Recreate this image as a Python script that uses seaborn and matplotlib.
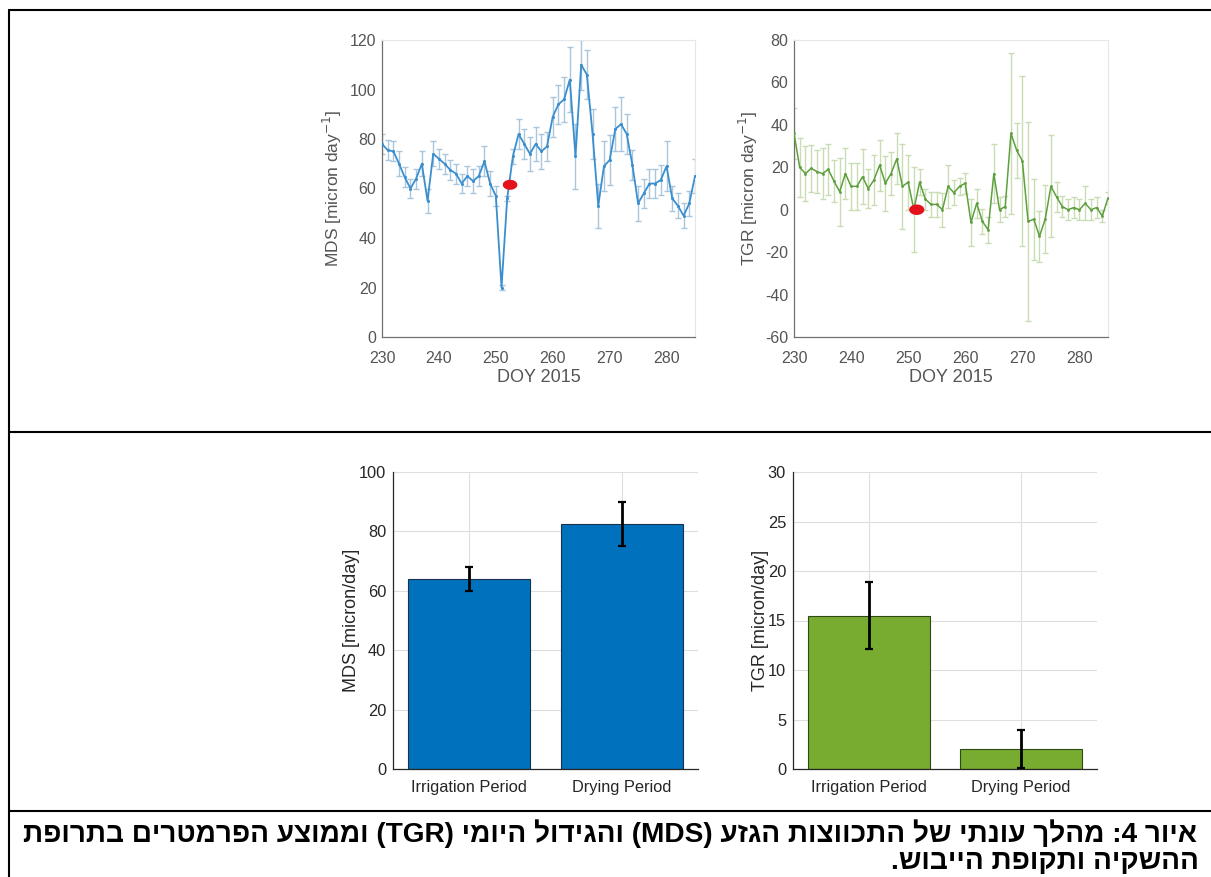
import re
import numpy as np
import pandas as pd
import seaborn as sns
import matplotlib
matplotlib.use("Agg")
import matplotlib.pyplot as plt
from matplotlib.lines import Line2D
from matplotlib.path import Path

# ---------------- data ----------------
doy = list(range(230, 286))
mds = [78, 75.5, 75, 70, 64.5, 60, 64, 70, 55, 74, 72, 70, 67.5, 66, 62, 65, 63, 65,
       71, 62, 57, 20, 56, 73, 82, 78, 74, 78, 75, 77, 89, 94, 96, 104, 73, 110, 106,
       82, 53, 69, 71.5, 84, 86, 82, 69.5, 54, 58, 62, 62, 63.5, 69, 56, 53, 49, 54, 65]
mds_err = [4, 4, 4, 5, 4, 4, 4, 5, 5, 5, 4, 4, 4, 4, 4, 4, 5, 4, 6, 5, 4, 1, 1, 3, 6,
           6, 7, 7, 7, 6, 8, 8, 9, 13, 13, 10, 10, 10, 9, 10, 10, 9, 11, 8, 6, 7, 6, 6,
           6, 6, 10, 5, 5, 5, 5, 7]
tgr = [36, 20, 17, 19.5, 18, 17, 19, 13.5, 8.5, 17, 11, 11, 15.5, 10, 14, 21, 12.5, 17,
       24, 11, 13, 0, 13, 5, 2.5, 2.5, 0, 11, 8, 11, 12.5, -6, 3, -5.5, -9.5, 17, 0, 1.5,
       36, 28, 23, -5.5, -4.5, -12.5, -4.5, 11, 6, 1.5, 0, 1, 0, 3, 0, 1, -3, 5.5]
tgr_err = [12, 14, 13, 11, 10, 12, 12, 10, 16, 12, 11, 11, 13, 9, 12, 12, 13, 10, 12, 20,
           13, 20, 6, 5, 6, 6, 8, 10, 6, 4, 5, 11, 7, 6, 6, 14, 6, 5, 38, 13, 40, 47, 19,
           12, 16, 24, 7, 5, 5, 5, 5, 8, 5, 5, 3, 3]
mds_mark_doy, mds_mark_val = [252.5], [61.5]
tgr_mark_doy, tgr_mark_val = [251.5], [0.0]

periods = ["Irrigation Period", "Drying Period"]
mds_mean = [64.0, 82.5]
mds_sd = [3.95, 7.3]
tgr_mean = [15.5, 2.0]
tgr_sd = [3.4, 1.9]

caption = ["איור 4: מהלך עונתי של התכווצות הגזע (MDS) והגידול היומי (TGR) וממוצע הפרמטרים בתרופת",
           "ההשקיה ותקופת הייבוש."]

# ---------------- style ----------------
sns.set_theme(style="white")
plt.rcParams["font.family"] = ["Liberation Sans", "DejaVu Sans"]
plt.rcParams["axes.unicode_minus"] = False

W, H = 1211, 877
fig = plt.figure(figsize=(W / 100, H / 100), dpi=100)
fig.patch.set_facecolor("white")


def px_axes(l, t, r, b):
    return fig.add_axes([l / W, 1 - b / H, (r - l) / W, (b - t) / H])


def style_top(ax):
    for s in ["left", "bottom"]:
        ax.spines[s].set_color("#707070")
        ax.spines[s].set_linewidth(0.9)
    for s in ["top", "right"]:
        ax.spines[s].set_color("#e6e6e6")
        ax.spines[s].set_linewidth(0.8)
    ax.tick_params(direction="in", length=3, width=0.7, color="#8a8a8a",
                   labelsize=11.5, labelcolor="#555555", pad=4)
    ax.tick_params(axis="x", pad=10)
    ax.set_xlim(230, 285)
    ax.set_xticks(range(230, 290, 10))
    ax.set_xlabel("DOY 2015", fontsize=13, color="#555555", labelpad=2)


theta = np.linspace(0, 2 * np.pi, 60)
ell = Path(np.column_stack([1.45 * np.cos(theta), np.sin(theta)]), closed=True)

# ---- top-left: MDS time series ----
ax1 = px_axes(382, 40, 695, 337)
df1 = pd.DataFrame({"DOY": doy, "MDS": mds, "err": mds_err})
ax1.errorbar(df1["DOY"], df1["MDS"], yerr=df1["err"], fmt="none", ecolor="#a9c6dc",
             elinewidth=1.0, capsize=2.5, capthick=1.0, zorder=2)
sns.lineplot(data=df1, x="DOY", y="MDS", ax=ax1, color="#3b8fcf", lw=1.3,
             marker="o", markersize=2.2, markeredgewidth=0, zorder=3)
sns.scatterplot(x=mds_mark_doy, y=mds_mark_val, ax=ax1, marker=ell, s=110,
                color="#e3121b", edgecolor="none", zorder=5)
ax1.set_ylim(0, 120)
ax1.set_yticks(range(0, 121, 20))
ax1.set_ylabel("MDS [micron day$^{-1}$]", fontsize=12.5, color="#555555", labelpad=4)
style_top(ax1)

# ---- top-right: TGR time series ----
ax2 = px_axes(794, 40, 1108, 337)
df2 = pd.DataFrame({"DOY": doy, "TGR": tgr, "err": tgr_err})
ax2.errorbar(df2["DOY"], df2["TGR"], yerr=df2["err"], fmt="none", ecolor="#c9ddb5",
             elinewidth=1.0, capsize=2.5, capthick=1.0, zorder=2)
sns.lineplot(data=df2, x="DOY", y="TGR", ax=ax2, color="#5e9f3e", lw=1.1,
             marker="o", markersize=2.0, markeredgewidth=0, zorder=3)
sns.scatterplot(x=tgr_mark_doy, y=tgr_mark_val, ax=ax2, marker=ell, s=120,
                color="#e3121b", edgecolor="none", zorder=5)
ax2.set_ylim(-60, 80)
ax2.set_yticks(range(-60, 81, 20))
ax2.set_ylabel("TGR [micron day$^{-1}$]", fontsize=12.5, color="#555555", labelpad=4)
style_top(ax2)


# ---- bottom bar charts ----
def bar_panel(ax, means, sds, color, edge, ylim, ystep, ylabel):
    sns.barplot(x=periods, y=means, ax=ax, color=color, saturation=1, width=0.8,
                edgecolor=edge, linewidth=0.8, zorder=2)
    centers = [p.get_x() + p.get_width() / 2 for p in ax.patches]
    ax.errorbar(centers, means, yerr=sds, fmt="none", ecolor="black",
                elinewidth=2.0, capsize=3, capthick=1.6, zorder=4)
    ax.set_xlim(-0.5, 1.5)
    ax.set_ylim(*ylim)
    ax.set_yticks(np.arange(ylim[0], ylim[1] + 0.001, ystep))
    ax.grid(True, color="#dedede", lw=0.8)
    ax.set_axisbelow(True)
    for s in ["top", "right"]:
        ax.spines[s].set_visible(False)
    for s in ["left", "bottom"]:
        ax.spines[s].set_color("#262626")
        ax.spines[s].set_linewidth(0.9)
    ax.tick_params(direction="in", length=3, width=0.7, color="#262626",
                   labelsize=11.8, labelcolor="#262626", pad=5)
    ax.tick_params(axis="x", pad=8)
    ax.set_ylabel(ylabel, fontsize=13, color="#262626", labelpad=-1)
    ax.set_xlabel("")


ax3 = px_axes(393, 472, 698, 769)
bar_panel(ax3, mds_mean, mds_sd, "#0072BD", "#17324a", (0, 100), 20, "MDS [micron/day]")
ax4 = px_axes(793, 472, 1097, 769)
bar_panel(ax4, tgr_mean, tgr_sd, "#77AC30", "#2f4a14", (0, 30), 5, "TGR [micron/day]")

# ---- frame lines ----
lw = 1.5
fig.add_artist(Line2D([9 / W, 1], [1 - 10 / H] * 2, color="black", lw=lw, transform=fig.transFigure))
fig.add_artist(Line2D([9 / W, 9 / W], [0, 1 - 10 / H], color="black", lw=lw, transform=fig.transFigure))
fig.add_artist(Line2D([9 / W, 1], [1 - 432 / H] * 2, color="black", lw=lw, transform=fig.transFigure))
fig.add_artist(Line2D([9 / W, 1], [1 - 811 / H] * 2, color="black", lw=lw, transform=fig.transFigure))


# ---- Hebrew caption (converted to visual order, right-to-left) ----
def visual(s):
    r = s[::-1]
    r = re.sub(r"[A-Za-z0-9]+", lambda m: m.group(0)[::-1], r)
    return r.translate(str.maketrans("()", ")("))


cap_fam = ["Liberation Sans", "DejaVu Sans"]
t1 = fig.text(1197 / W, 1 - 842 / H, visual(caption[0]), ha="right", va="baseline",
              fontsize=18, fontweight="bold", family=cap_fam, color="black")
t2 = fig.text(1199 / W, 1 - 869 / H, visual(caption[1]), ha="right", va="baseline",
              fontsize=18, fontweight="bold", family=cap_fam, color="black")
fig.canvas.draw()
w = t1.get_window_extent().width
fs = 18 * 1174 / w
t1.set_fontsize(fs)
t2.set_fontsize(fs)

fig.savefig("out.png", dpi=100, facecolor="white")
